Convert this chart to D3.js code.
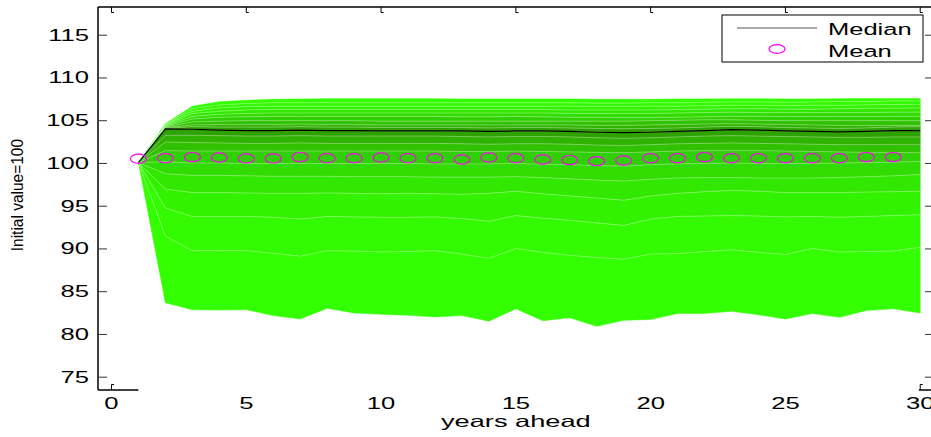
<!DOCTYPE html>
<html>
<head>
<meta charset="utf-8">
<script src="https://cdn.jsdelivr.net/npm/d3@7"></script>
<style>
  html, body { margin: 0; padding: 0; background: #fff; }
  svg { display: block; }
  text { font-family: "Liberation Sans", Arial, Helvetica, sans-serif; fill: #000; }
</style>
</head>
<body>
<svg id="chart" width="931" height="437"></svg>
<script>
// Forecast horizon (years ahead)
const years = d3.range(1, 31);

// Simulated paths, percentiles of the distribution per year (initial value = 100)
const p05 = [100.1, 83.7, 82.9, 82.85, 82.9, 82.2, 81.8, 83.05, 82.5, 82.35, 82.25, 82.05, 82.2, 81.55, 83.0, 81.6, 81.95, 80.95, 81.65, 81.75, 82.45, 82.45, 82.7, 82.3, 81.8, 82.45, 82.0, 82.8, 83.0, 82.5];
const p10 = [100.1, 91.5, 89.8, 89.8, 89.8, 89.5, 89.15, 89.8, 89.75, 89.65, 89.7, 89.8, 89.4, 88.9, 90.05, 89.6, 89.25, 89.0, 88.8, 89.4, 89.45, 89.7, 89.9, 89.6, 89.35, 90.05, 89.65, 89.7, 89.75, 90.2];
const p15 = [100.1, 94.8, 93.8, 93.8, 93.8, 93.7, 93.5, 93.8, 93.75, 93.7, 93.7, 93.75, 93.55, 93.25, 93.9, 93.6, 93.35, 93.05, 92.75, 93.5, 93.8, 93.85, 93.9, 93.85, 93.75, 93.8, 93.7, 93.8, 93.9, 94.0];
const p20 = [100.1, 97.0, 96.6, 96.6, 96.55, 96.5, 96.5, 96.55, 96.5, 96.45, 96.5, 96.45, 96.4, 96.5, 96.75, 96.45, 96.2, 95.95, 95.7, 96.2, 96.5, 96.7, 96.85, 96.75, 96.6, 96.6, 96.6, 96.65, 96.7, 96.75];
const p25 = [100.1, 98.8, 98.6, 98.6, 98.55, 98.5, 98.5, 98.5, 98.45, 98.45, 98.45, 98.4, 98.4, 98.4, 98.45, 98.35, 98.2, 98.05, 97.95, 98.15, 98.3, 98.35, 98.35, 98.3, 98.3, 98.3, 98.35, 98.45, 98.55, 98.7];
const p30 = [100.1, 100.2, 100.05, 100.05, 100.0, 100.0, 100.0, 100.0, 100.0, 100.0, 100.0, 99.95, 99.95, 99.95, 100.0, 99.9, 99.85, 99.75, 99.7, 99.85, 99.95, 100.0, 100.05, 100.0, 100.0, 100.0, 100.05, 100.1, 100.15, 100.25];
const p35 = [100.1, 101.5, 101.45, 101.45, 101.45, 101.45, 101.45, 101.45, 101.45, 101.45, 101.45, 101.45, 101.4, 101.4, 101.45, 101.4, 101.35, 101.3, 101.25, 101.35, 101.45, 101.5, 101.5, 101.5, 101.45, 101.4, 101.35, 101.3, 101.3, 101.25];
const p40 = [100.1, 102.5, 102.45, 102.4, 102.35, 102.35, 102.4, 102.35, 102.35, 102.35, 102.35, 102.35, 102.3, 102.25, 102.3, 102.3, 102.25, 102.15, 102.1, 102.2, 102.3, 102.35, 102.4, 102.35, 102.3, 102.25, 102.2, 102.2, 102.2, 102.2];
const p45 = [100.1, 103.3, 103.3, 103.25, 103.2, 103.2, 103.25, 103.2, 103.2, 103.2, 103.2, 103.2, 103.15, 103.1, 103.15, 103.15, 103.1, 103.0, 102.95, 103.0, 103.1, 103.2, 103.25, 103.2, 103.15, 103.1, 103.05, 103.05, 103.1, 103.1];
const median = [100.1, 104.05, 104.0, 103.9, 103.85, 103.85, 103.9, 103.85, 103.85, 103.8, 103.8, 103.8, 103.8, 103.75, 103.8, 103.8, 103.75, 103.65, 103.6, 103.65, 103.75, 103.85, 103.95, 103.9, 103.8, 103.75, 103.7, 103.75, 103.85, 103.85];
const p55 = [100.1, 104.12, 104.3, 104.25, 104.25, 104.25, 104.3, 104.25, 104.25, 104.2, 104.2, 104.2, 104.2, 104.15, 104.2, 104.2, 104.15, 104.1, 104.05, 104.1, 104.15, 104.25, 104.35, 104.3, 104.2, 104.15, 104.1, 104.15, 104.25, 104.3];
const p60 = [100.1, 104.2, 104.5, 104.55, 104.55, 104.55, 104.6, 104.55, 104.55, 104.5, 104.5, 104.5, 104.5, 104.5, 104.5, 104.5, 104.5, 104.45, 104.45, 104.5, 104.55, 104.6, 104.65, 104.6, 104.55, 104.5, 104.45, 104.45, 104.45, 104.45];
const p65 = [100.1, 104.28, 104.85, 104.95, 105.0, 105.0, 105.0, 105.0, 105.0, 104.95, 104.95, 104.95, 104.95, 104.95, 104.95, 104.95, 104.95, 104.95, 104.95, 105.0, 105.05, 105.1, 105.1, 105.05, 105.0, 105.0, 105.0, 105.0, 105.0, 105.0];
const p70 = [100.1, 104.35, 105.2, 105.4, 105.45, 105.5, 105.5, 105.5, 105.5, 105.5, 105.5, 105.5, 105.45, 105.45, 105.5, 105.45, 105.4, 105.4, 105.35, 105.35, 105.4, 105.45, 105.5, 105.5, 105.5, 105.5, 105.5, 105.5, 105.5, 105.5];
const p75 = [100.1, 104.42, 105.5, 105.75, 105.85, 105.9, 105.9, 105.9, 105.9, 105.9, 105.9, 105.9, 105.9, 105.9, 105.9, 105.9, 105.85, 105.85, 105.85, 105.85, 105.9, 105.95, 106.0, 105.95, 105.95, 105.95, 105.95, 105.95, 106.0, 106.0];
const p80 = [100.1, 104.48, 105.85, 106.1, 106.25, 106.3, 106.3, 106.3, 106.3, 106.3, 106.3, 106.3, 106.3, 106.3, 106.3, 106.3, 106.25, 106.25, 106.25, 106.25, 106.3, 106.35, 106.4, 106.4, 106.35, 106.35, 106.4, 106.45, 106.45, 106.5];
const p85 = [100.1, 104.54, 106.1, 106.5, 106.65, 106.7, 106.7, 106.7, 106.7, 106.7, 106.7, 106.7, 106.7, 106.7, 106.7, 106.7, 106.7, 106.65, 106.65, 106.7, 106.7, 106.75, 106.8, 106.8, 106.75, 106.8, 106.8, 106.85, 106.9, 106.9];
const p90 = [100.1, 104.6, 106.4, 106.85, 107.0, 107.1, 107.1, 107.1, 107.1, 107.1, 107.1, 107.1, 107.1, 107.1, 107.1, 107.1, 107.1, 107.05, 107.05, 107.1, 107.1, 107.15, 107.2, 107.2, 107.15, 107.2, 107.25, 107.25, 107.3, 107.3];
const p95 = [100.1, 104.65, 106.7, 107.22, 107.38, 107.5, 107.55, 107.58, 107.58, 107.58, 107.58, 107.58, 107.55, 107.55, 107.55, 107.55, 107.55, 107.5, 107.5, 107.5, 107.55, 107.55, 107.58, 107.58, 107.55, 107.55, 107.58, 107.6, 107.6, 107.6];

// Mean of the simulated paths (years 1..29)
const mean = [100.55, 100.62, 100.74, 100.7, 100.59, 100.59, 100.74, 100.62, 100.62, 100.7, 100.62, 100.62, 100.47, 100.7, 100.62, 100.47, 100.39, 100.27, 100.35, 100.6, 100.6, 100.74, 100.6, 100.6, 100.6, 100.6, 100.6, 100.74, 100.74];

// Axis ticks
const xTicks = [0, 5, 10, 15, 20, 25, 30];
const yTicks = [75, 80, 85, 90, 95, 100, 105, 110, 115];

// Fan shades, outermost band first
const shades = ["#33ff00", "#33fa00", "#32f200", "#32e800", "#31dc00", "#30cf00", "#30c100", "#2fb200", "#2ea200"];

const svg = d3.select("#chart");
const x = d3.scaleLinear().domain([-0.5, 30.4]).range([98, 931]);
const y = d3.scaleLinear().domain([73.5, 118.3]).range([390, 7]);
const [x0, x1] = x.range();
const [yB, yT] = y.range();

// Percentile boundaries, bottom to top; 50th percentile is the median
const levels = [p05, p10, p15, p20, p25, p30, p35, p40, p45, median, p55, p60, p65, p70, p75, p80, p85, p90, p95];
const nB = levels.length - 1;

const area = (lo, hi) => d3.area()
  .x((d, i) => x(years[i]))
  .y0((d, i) => y(lo[i]))
  .y1((d, i) => y(hi[i]))(years);

const fan = svg.append("g");
for (let b = 0; b < nB; b++) {
  const depth = Math.min(b, nB - 1 - b);
  fan.append("path")
    .attr("d", area(levels[b], levels[b + 1]))
    .attr("fill", shades[depth])
    .attr("stroke", shades[depth])
    .attr("stroke-width", 0.5);
}

// Light edges between bands
const edge = d3.line().x((d, i) => x(years[i])).y(d => y(d));
levels.slice(1, -1).forEach(lv => {
  fan.append("path")
    .attr("d", edge(lv))
    .attr("fill", "none")
    .attr("stroke", "#ffffff")
    .attr("stroke-opacity", 0.32)
    .attr("stroke-width", 1);
});

// Median path
svg.append("path")
  .attr("d", edge(median))
  .attr("fill", "none")
  .attr("stroke", "#000")
  .attr("stroke-width", 1.2);

// Mean markers
svg.append("g").selectAll("ellipse")
  .data(mean)
  .join("ellipse")
  .attr("cx", (d, i) => x(years[i]))
  .attr("cy", d => y(d))
  .attr("rx", 8)
  .attr("ry", 4.6)
  .attr("fill", "none")
  .attr("stroke", "#ff00ff")
  .attr("stroke-width", 1.2);

// Frame
const frame = svg.append("g").attr("stroke", "#000").attr("fill", "none");
frame.append("line").attr("x1", x0).attr("x2", x1).attr("y1", yT).attr("y2", yT).attr("stroke-width", 1.5);
frame.append("line").attr("x1", x0).attr("x2", x0).attr("y1", yT).attr("y2", yB).attr("stroke-width", 1.5);
frame.append("line").attr("x1", x0).attr("x2", x(1)).attr("y1", yB).attr("y2", yB).attr("stroke-width", 1.5);
frame.append("line").attr("x1", x(29.95)).attr("x2", x1).attr("y1", yB).attr("y2", yB).attr("stroke-width", 1.5);

// Top x ticks
xTicks.forEach(t => {
  frame.append("path")
    .attr("d", `M${x(t)},${yT}V${yT + 5.5}H${x(t) + 2.5}`)
    .attr("stroke-width", 1);
});
// Bottom x ticks that show at the ends
[xTicks[0], xTicks[xTicks.length - 1]].forEach(t => {
  frame.append("path")
    .attr("d", `M${x(t)},${yB}V${yB - 5.5}H${x(t) + 2.5}`)
    .attr("stroke-width", 1);
});
// Y ticks, left and right
yTicks.forEach(v => {
  frame.append("line").attr("x1", x0).attr("x2", x0 + 9).attr("y1", y(v)).attr("y2", y(v)).attr("stroke", "#333").attr("stroke-width", 1);
  frame.append("line").attr("x1", x1 - 6).attr("x2", x1).attr("y1", y(v)).attr("y2", y(v)).attr("stroke", "#333").attr("stroke-width", 1);
});

// Tick labels
const sx = 1.6;
const yLab = svg.append("g");
yTicks.forEach(v => {
  yLab.append("g")
    .attr("transform", `translate(${x0 - 9},${y(v) + 5.5}) scale(${sx},1)`)
    .append("text")
    .attr("text-anchor", "end")
    .attr("font-size", 16)
    .text(v);
});
const xLab = svg.append("g");
xTicks.forEach(t => {
  xLab.append("g")
    .attr("transform", `translate(${x(t)},${yB + 19}) scale(${sx},1)`)
    .append("text")
    .attr("text-anchor", "middle")
    .attr("font-size", 16)
    .text(t);
});

// Axis titles
svg.append("g")
  .attr("transform", `translate(${x(15)},${yB + 37}) scale(1.65,1)`)
  .append("text")
  .attr("text-anchor", "middle")
  .attr("font-size", 16.5)
  .text("years ahead");

svg.append("g")
  .attr("transform", `translate(23,${y(96.3)}) scale(1.12,1) rotate(-90)`)
  .append("text")
  .attr("text-anchor", "middle")
  .attr("font-size", 15.5)
  .text("Initial value=100");

// Legend
const lg = svg.append("g");
lg.append("rect")
  .attr("x", 722).attr("y", 15).attr("width", 201).attr("height", 47)
  .attr("fill", "#fff").attr("stroke", "#000").attr("stroke-width", 1);
lg.append("line")
  .attr("x1", 737).attr("x2", 817).attr("y1", 28).attr("y2", 28)
  .attr("stroke", "#555").attr("stroke-width", 1);
lg.append("ellipse")
  .attr("cx", 777).attr("cy", 49).attr("rx", 8).attr("ry", 4.3)
  .attr("fill", "none").attr("stroke", "#ff00ff").attr("stroke-width", 1.2);
[["Median", 35], ["Mean", 57]].forEach(([label, by]) => {
  lg.append("g")
    .attr("transform", `translate(828,${by}) scale(1.5,1)`)
    .append("text")
    .attr("font-size", 17)
    .text(label);
});
</script>
</body>
</html>
